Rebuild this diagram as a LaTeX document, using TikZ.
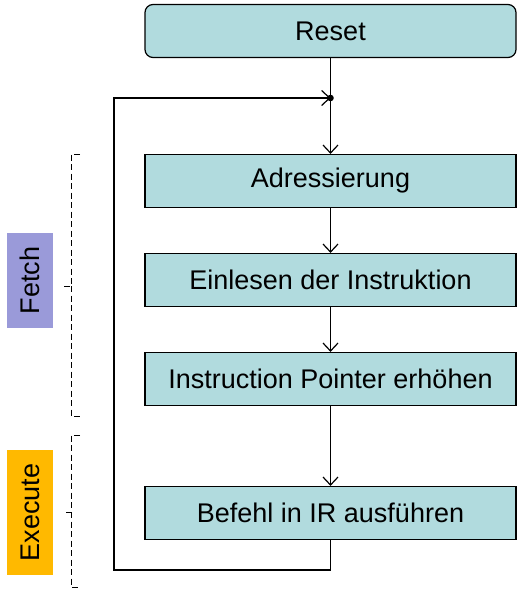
\documentclass[tikz,border=0pt]{standalone}
\usepackage{fontspec}
\setmainfont{Liberation Sans}
\usetikzlibrary{arrows.meta}
\definecolor{boxcyan}{HTML}{B1DBDE}
\definecolor{fetchblue}{HTML}{9A9AD9}
\definecolor{execorange}{HTML}{FFB900}

\begin{document}
\begin{tikzpicture}[x=1pt,y=-1pt,line width=1.2pt,
  stepbox/.style={draw,fill=boxcyan,minimum width=371pt,minimum height=53pt,
    inner sep=0pt,font=\fontsize{27}{31}\selectfont},
  phase/.style={rotate=90,inner sep=0pt,font=\fontsize{27}{31}\selectfont},
  flow/.style={-{Straight Barb[length=8pt,width=15pt]}},
  bracket/.style={dash pattern=on 6pt off 3.5pt,line width=1pt}]

\useasboundingbox (0,0) rectangle (524,594);

% Ablauf
\node[stepbox,rounded corners=8pt] (reset) at (330.5,31) {Reset};
\node[stepbox] (adr)  at (330.5,181) {Adressierung};
\node[stepbox] (ein)  at (330.5,280) {Einlesen der Instruktion};
\node[stepbox] (ip)   at (330.5,379) {Instruction Pointer erhöhen};
\node[stepbox] (bef)  at (330.5,513) {Befehl in IR ausführen};

\coordinate (join) at (330.5,98);
\fill (join) circle (3.3pt);

\draw (reset) -- (join);
\draw[flow] (join) -- (adr);
\draw[flow] (adr) -- (ein);
\draw[flow] (ein) -- (ip);
\draw[flow] (ip) -- (bef);
\draw[flow] (bef.south) |- (114,570) -- (114,98) -- (join);

% Phasen
\node[phase,fill=fetchblue,minimum width=95pt,minimum height=46pt] (fetch) at (30,280.5) {Fetch};
\node[phase,fill=execorange,minimum width=125pt,minimum height=46pt] (exec) at (30,512.5) {Execute};

\draw[bracket] (80,154) -- (71,154) -- (71,286) -- (63,286)
  (71,286) -- (71,416) -- (80,416);
\draw[bracket] (80,435) -- (71,435) -- (71,512) -- (63,512)
  (71,512) -- (71,587) -- (80,587);

\end{tikzpicture}
\end{document}
